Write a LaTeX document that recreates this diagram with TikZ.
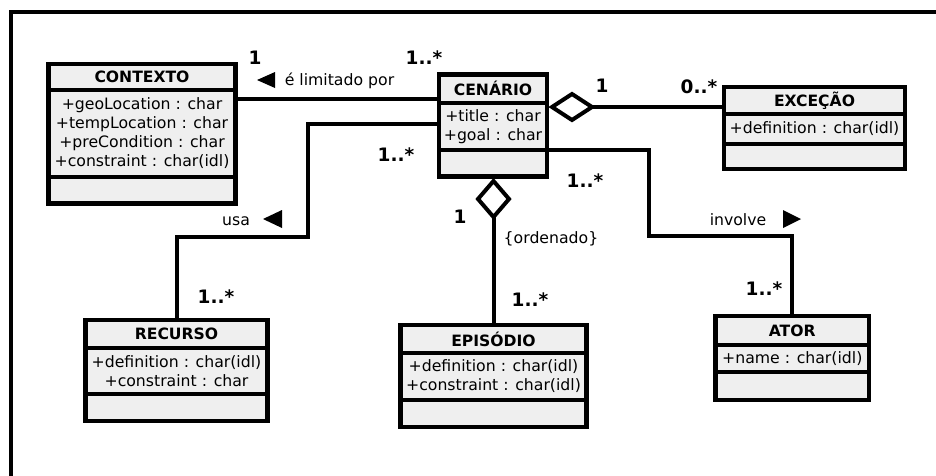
\documentclass[tikz,border=0pt]{standalone}
\usepackage{fontspec}
\setmainfont{DejaVu Sans}
\usetikzlibrary{shapes.geometric}
\definecolor{boxfill}{RGB}{239,239,239}
\tikzset{
 classbox/.style={draw, fill=boxfill, line width=4.2pt, inner sep=0pt, outer sep=0pt},
 sepline/.style={line width=4pt},
 conn/.style={line width=4pt},
 framel/.style={line width=4pt},
 ctitle/.style={inner sep=0pt, font=\fontsize{15.6}{19}\selectfont\bfseries},
 cattr/.style={inner sep=0pt, align=center, font=\fontsize{15.7}{19}\selectfont},
 mult/.style={inner sep=0pt, font=\fontsize{18.5}{20}\selectfont\bfseries},
 lbl/.style={inner sep=0pt, font=\fontsize{15.7}{19}\selectfont},
 agg/.style={shape=diamond, draw, fill=white, line width=4pt, inner sep=0pt, outer sep=0pt},
 tri/.style={fill=black},
}
\newcommand\umlclass[9]{%
 \node[classbox, anchor=north west, minimum width={#4-#2}, minimum height={#5-#3}] (#1) at (#2,#3) {};
 \draw[sepline] (#2,#6) -- (#4,#6);
 \draw[sepline] (#2,#7) -- (#4,#7);
 \node[ctitle] (#1-t) at ({(#2+#4)/2},{(#3+#6)/2}) {#8};
 \node[cattr] (#1-a) at ({(#2+#4)/2},{(#6+#7)/2}) {#9};
}
\begin{document}
\begin{tikzpicture}[x=1pt,y=-1pt]
\useasboundingbox (0,0) rectangle (936,475);
% frame
\draw[framel] (11,485) -- (11,12) -- (950,12);
% helper levels
\coordinate (y99) at (0,99);
\coordinate (y124) at (0,124);
\coordinate (y237) at (0,237);
\coordinate (y150) at (0,150);
\coordinate (y235) at (0,235.5);
% classes
\umlclass{ctx}{48.5}{64}{235.5}{203.5}{89.5}{176.5}{CONTEXTO}{+geoLocation : char\\+tempLocation : char\\+preCondition : char\\+constraint : char(idl)}
\umlclass{cen}{439}{74.5}{547}{176.5}{103}{149.5}{CENÁRIO}{+title : char\\+goal : char}
\umlclass{exc}{724}{87}{905}{169}{114}{144}{EXCEÇÃO}{+definition : char(idl)}
\umlclass{rec}{85.5}{320}{267.5}{421}{348}{394}{RECURSO}{+definition : char(idl)\\+constraint : char}
\umlclass{epi}{400.5}{325}{586.5}{427}{353}{400}{EPISÓDIO}{+definition : char(idl)\\+constraint : char(idl)}
\umlclass{ator}{715.5}{316}{869}{400}{345}{372}{ATOR}{+name : char(idl)}
% connectors
\draw[conn] (cen.west |- y99) -- (ctx.east |- y99);
\draw[conn] (cen.west |- y124) -- (308,124) -- (308,237) -- (rec.north |- y237) -- (rec.north);
\draw[conn] (cen.east |- y150) -- (649,150) -- (649,235.5) -- (ator.north |- y235) -- (ator.north);
\node[agg, minimum width=40pt, minimum height=26pt] (dR) at (572,107) {};
\draw[conn] (dR.east) -- (exc.west |- dR.east);
\node[agg, minimum width=31pt, minimum height=36pt] (dB) at (493.5,199) {};
\draw[conn] (dB.south) -- (epi.north);
% direction triangles
\fill[tri] (257,80) -- (275,72) -- (275,88) -- cycle;
\fill[tri] (263,219) -- (282,210) -- (282,228) -- cycle;
\fill[tri] (801,219) -- (783,210) -- (783,228) -- cycle;
% labels
\node[lbl, anchor=base] (l-lim) at (339.5,85) {é limitado por};
\node[lbl, anchor=base] (l-usa) at (236,225) {usa};
\node[lbl, anchor=base] (l-inv) at (738,225) {involve};
\node[lbl, anchor=base] (l-ord) at (551,243) {\{ordenado\}};
% multiplicities
\node[mult] (m1) at (255,58) {1};
\node[mult] (m2) at (424,58) {1..*};
\node[mult] (m3) at (396,155) {1..*};
\node[mult] (m4) at (216,297) {1..*};
\node[mult] (m5) at (460,217) {1};
\node[mult] (m6) at (530,300) {1..*};
\node[mult] (m7) at (602,86) {1};
\node[mult] (m8) at (699,87) {0..*};
\node[mult] (m9) at (585,181) {1..*};
\node[mult] (m10) at (764,289) {1..*};
\end{tikzpicture}
\end{document}
